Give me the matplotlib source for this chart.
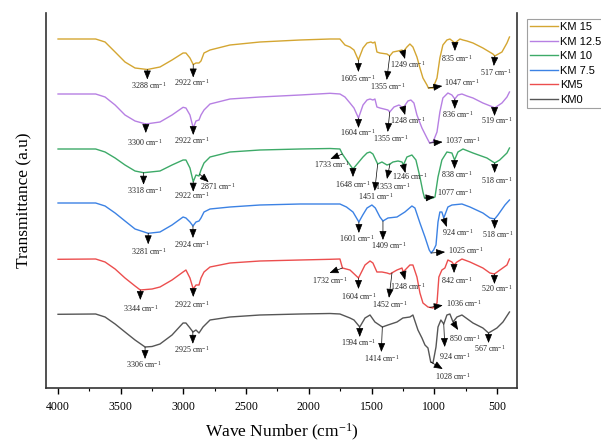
import numpy as np
import matplotlib
matplotlib.use('Agg')
import matplotlib.pyplot as plt
from matplotlib.ticker import MultipleLocator

plt.rcParams['mathtext.fontset'] = 'custom'
plt.rcParams['mathtext.rm'] = 'Liberation Serif'
plt.rcParams['mathtext.it'] = 'Liberation Serif:italic'

# ---------------- data ----------------
series_names = ['KM 15', 'KM 12.5', 'KM 10', 'KM 7.5', 'KM5', 'KM0']
colors = ['#D4A632', '#B780E3', '#3DAA68', '#3C82E4', '#EC4E4E', '#565656']

km15_w = [4000, 3700, 3625, 3545, 3466, 3386, 3288, 3187, 3091, 3003, 2980, 2948, 2922, 2900, 2876, 2860,
          2836, 2788, 2629, 2390, 2070, 1831, 1752, 1712, 1672, 1640, 1605, 1568, 1536, 1505, 1489, 1473,
          1457, 1433, 1377, 1355, 1329, 1289, 1257, 1249, 1218, 1194, 1170, 1138, 1114, 1090, 1058, 1047,
          1010, 978, 955, 931, 899, 875, 835, 795, 771, 739, 691, 612, 532, 517, 460, 420, 400]
km15_t = [361, 361, 358, 348, 338, 332, 330.5, 333, 340, 347, 347, 342, 335.5, 337, 337, 339,
          347, 350, 355, 358, 360, 361, 361, 355, 353, 350, 340, 352, 357, 358, 357, 358,
          348, 347, 346, 344, 348, 349, 350, 348, 353, 356, 353, 343, 332, 322, 315, 312,
          312, 322, 342, 355, 360, 361, 357, 361, 360, 359, 357, 352, 346, 344, 348, 357, 363]

km125_w = [4000, 3700, 3625, 3545, 3466, 3386, 3300, 3187, 3091, 3003, 2980, 2948, 2922, 2900, 2876, 2860,
           2836, 2788, 2629, 2390, 2070, 1831, 1752, 1712, 1672, 1640, 1604, 1568, 1536, 1512, 1489, 1473,
           1457, 1433, 1369, 1355, 1321, 1281, 1248, 1210, 1186, 1162, 1138, 1098, 1058, 1037, 1010, 978,
           955, 931, 891, 859, 836, 811, 779, 739, 691, 612, 532, 519, 460, 420, 400]
km125_t = [306, 306, 303, 295, 285, 279, 276, 278, 285, 292.7, 292, 285, 272, 279, 280, 285,
           290, 296, 301, 303, 305, 306.7, 306, 303, 297, 292, 282, 295, 300, 301, 300, 301,
           293, 292, 290, 288, 293, 295, 292, 299, 300, 297, 285, 272, 262, 257, 258, 268,
           288, 302, 307, 305, 301, 305, 306, 304, 302, 297, 293, 292, 297, 303, 308]

km10_w = [4000, 3700, 3625, 3545, 3466, 3386, 3318, 3187, 3091, 3003, 2980, 2948, 2922, 2900, 2876, 2860,
          2836, 2788, 2629, 2390, 2070, 1831, 1752, 1733, 1700, 1648, 1608, 1568, 1536, 1512, 1489, 1451,
          1417, 1377, 1353, 1329, 1289, 1257, 1246, 1218, 1178, 1146, 1114, 1090, 1077, 1050, 1010, 994,
          970, 939, 899, 859, 838, 811, 771, 691, 580, 518, 478, 420, 400]
km10_t = [251, 251, 248, 242, 235, 229, 227.3, 229, 235, 240, 240, 232, 218.3, 225, 224, 230,
          237, 243, 248, 250, 251, 251.5, 251, 246, 240, 231, 237, 243, 247, 248, 246, 236,
          238, 235, 236, 238, 239, 238, 235, 243, 245, 240, 223, 208, 202, 201, 202, 203,
          223, 240, 248, 247, 240, 248, 251, 247, 242, 237, 240, 247, 252]

km75_w = [4000, 3700, 3625, 3545, 3466, 3386, 3281, 3187, 3091, 3003, 2980, 2948, 2924, 2900, 2876, 2860,
          2836, 2788, 2629, 2390, 2070, 1831, 1752, 1700, 1648, 1601, 1570, 1536, 1497, 1470, 1433, 1409,
          1369, 1297, 1234, 1178, 1154, 1114, 1074, 1040, 1025, 1005, 986, 970, 955, 939, 924, 891,
          859, 779, 715, 612, 556, 518, 492, 436, 400]
km75_t = [197, 197, 194, 187, 179, 171, 166.7, 168, 175, 183, 182, 178, 174, 178, 179, 182,
          188, 191, 193, 195, 196, 196, 196, 193, 188, 178, 185, 192, 195, 192, 183, 179,
          182, 183, 188, 194, 192, 177, 163, 150, 147, 150, 155, 178, 188, 188, 182, 193,
          195, 196, 193, 187, 182, 181, 185, 195, 200]

km5_w = [4000, 3700, 3625, 3545, 3466, 3386, 3344, 3250, 3187, 3091, 3003, 2980, 2948, 2922, 2900, 2876,
         2860, 2836, 2788, 2629, 2390, 2070, 1831, 1752, 1732, 1672, 1604, 1552, 1512, 1489, 1457, 1417,
         1377, 1353, 1297, 1257, 1248, 1194, 1170, 1138, 1114, 1090, 1050, 1010, 978, 963, 939, 915,
         891, 859, 842, 819, 779, 715, 612, 556, 520, 476, 420, 400]
km5_t = [140.7, 141, 138, 131, 122, 114, 110, 111, 113, 120, 128, 130, 122, 111, 115, 115,
         122, 128, 133, 137, 139, 140, 140.7, 141, 132, 130, 122, 135, 139, 137, 128, 128,
         127, 126, 130, 132, 128, 135, 135, 123, 107, 97, 93, 92, 97, 123, 130, 132,
         140, 138, 135, 138, 141, 138, 132, 127, 126, 130, 135, 141]

km0_w = [4000, 3700, 3625, 3545, 3466, 3386, 3306, 3250, 3187, 3091, 3003, 2980, 2948, 2924, 2900, 2876,
         2844, 2788, 2629, 2390, 2070, 1831, 1752, 1672, 1640, 1594, 1552, 1512, 1473, 1414, 1369, 1297,
         1250, 1194, 1170, 1130, 1098, 1074, 1050, 1028, 1010, 986, 970, 947, 924, 899, 875, 850,
         819, 779, 691, 612, 567, 500, 452, 400]
km0_t = [85.7, 86, 83, 76, 68, 60, 53, 53.5, 56, 65, 77, 77, 72, 68, 70, 67,
         73, 80, 83, 85, 86, 86.5, 86, 82, 80, 73, 82, 85, 78, 73, 75, 78,
         82, 83, 85, 70, 62, 55, 52, 38, 37, 53, 73, 80, 76, 85, 86, 78,
         83, 85, 77, 72, 67, 72, 78, 88]

curves = [(km15_w, km15_t), (km125_w, km125_t), (km10_w, km10_t),
          (km75_w, km75_t), (km5_w, km5_t), (km0_w, km0_t)]

x_ticks = [4000, 3500, 3000, 2500, 2000, 1500, 1000, 500]

# peak labels: (series, label wavenumber, arrow-tail wavenumber or None)
peak_labels = [
    (0, 3288, None), (0, 2922, None), (0, 1605, None), (0, 1355, None), (0, 1249, None),
    (0, 835, None), (0, 1047, None), (0, 517, None),
    (1, 3300, None), (1, 2922, None), (1, 1604, None), (1, 1355, None), (1, 1248, None),
    (1, 836, None), (1, 1037, None), (1, 519, None),
    (2, 3318, None), (2, 2922, None), (2, 2871, None), (2, 1733, None), (2, 1648, None),
    (2, 1451, None), (2, 1353, None), (2, 1246, None), (2, 838, None), (2, 1077, None), (2, 518, None),
    (3, 3281, None), (3, 2924, None), (3, 1601, None), (3, 1409, None), (3, 924, None),
    (3, 1025, None), (3, 518, None),
    (4, 3344, None), (4, 2922, None), (4, 1732, None), (4, 1604, None), (4, 1452, 1337),
    (4, 1248, None), (4, 842, None), (4, 1036, None), (4, 520, None),
    (5, 3306, None), (5, 2925, None), (5, 1594, None), (5, 1414, None), (5, 924, None),
    (5, 850, None), (5, 1028, None), (5, 567, None),
]
# layout of each label: arrow head offset, text offset (pixels), text alignment
label_layout = [
    ((0, -10), (1, -16), 'center'), ((0, -13), (-1, -18), 'center'), ((0, -12), (-1, -18), 'center'),
    ((-3, -24), (-2, -30), 'center'), ((2, -7), (5, -13), 'center'), ((0, -8), (2, -15), 'center'),
    ((14, 2), (16, 5), 'left'), ((-1, -10), (1, -17), 'center'),
    ((0, -9), (-1, -18), 'center'), ((0, -7), (-1, -12), 'center'), ((0, -10), (-1, -15), 'center'),
    ((-2, -20), (1, -26), 'center'), ((2, -7), (5, -12), 'center'), ((0, -10), (3, -15), 'center'),
    ((13, 1), (15, 3), 'left'), ((0, -8), (2, -13), 'center'),
    ((0, -12), (1, -18), 'center'), ((0, -10), (-1, -14), 'center'), ((9, -8), (18, -12), 'center'),
    ((-12, -5), (-11, -10), 'center'), ((0, -8), (0, -15), 'center'), ((-3, -27), (-2, -32), 'center'),
    ((-3, -15), (3, -22), 'center'), ((2, -8), (6, -12), 'center'), ((0, -9), (2, -14), 'center'),
    ((10, 1), (12, 5), 'left'), ((0, -10), (2, -17), 'center'),
    ((0, -11), (1, -18), 'center'), ((0, -12), (-1, -19), 'center'), ((0, -11), (-2, -17), 'center'),
    ((0, -19), (6, -25), 'center'), ((3, -9), (14, -15), 'center'), ((14, 1), (17, 2), 'left'),
    ((0, -10), (3, -16), 'center'),
    ((0, -10), (0, -18), 'center'), ((0, -8), (-1, -15), 'center'), ((-13, -5), (-13, -13), 'center'),
    ((0, -11), (0, -18), 'center'), ((-3, -25), (-2, -32), 'center'), ((2, -8), (5, -15), 'center'),
    ((0, -8), (3, -15), 'center'), ((13, 2), (16, 4), 'left'), ((0, -10), (2, -15), 'center'),
    ((0, -12), (-1, -17), 'center'), ((0, -12), (-1, -18), 'center'), ((0, -10), (-1, -16), 'center'),
    ((-1, -25), (-1, -32), 'center'), ((1, -23), (11, -33), 'center'), ((5, -8), (12, -16), 'center'),
    ((12, -7), (22, -14), 'center'), ((0, -10), (1, -16), 'center'),
]

# ---------------- figure ----------------
fig = plt.figure(figsize=(6.01, 4.43), dpi=100)
ax = fig.add_axes([46 / 601, 1 - 388 / 443, (517 - 46) / 601, (388 - 13) / 443])

for (w, t), name, c in zip(curves, series_names, colors):
    ax.plot(w, t, color=c, lw=1.0, label=name, solid_joinstyle='round')

for (si, wn, tail_w), (hoff, toff, ha) in zip(peak_labels, label_layout):
    w = np.array(curves[si][0], dtype=float)[::-1]
    t = np.array(curves[si][1], dtype=float)[::-1]
    tw = tail_w if tail_w is not None else wn
    ty = np.interp(tw, w, t)
    ax.annotate('', xy=(tw, ty), xytext=hoff, textcoords='offset pixels',
                arrowprops=dict(arrowstyle='<|-,head_length=0.55,head_width=0.22',
                                color='black', lw=0.5, shrinkA=0, shrinkB=0,
                                mutation_scale=10))
    ax.annotate(f'{wn} cm$^{{-1}}$', xy=(tw, ty), xytext=toff, textcoords='offset pixels',
                ha=ha, va='center', fontsize=5.8, family='Liberation Serif', color='#222222')

ax.set_xlim(4096, 340)
ax.set_ylim(12, 387)
ax.set_xticks(x_ticks)
ax.xaxis.set_minor_locator(MultipleLocator(250))
ax.set_yticks([])
ax.tick_params(axis='x', which='major', direction='out', length=4, width=1, labelsize=8.5, pad=5)
ax.tick_params(axis='x', which='minor', direction='out', length=2.5, width=0.8)
for lab in ax.get_xticklabels():
    lab.set_family('Liberation Serif')

ax.spines['top'].set_visible(False)
for s in ['left', 'right', 'bottom']:
    ax.spines[s].set_linewidth(1.2)
    ax.spines[s].set_color('#333333')

ax.set_xlabel('Wave Number (cm$^{-1}$)', fontsize=12.5, family='Liberation Serif', labelpad=6.5)
ax.set_ylabel('Transmittance (a.u)', fontsize=12.5, family='Liberation Serif', labelpad=10)

leg = fig.legend(loc='upper left', bbox_to_anchor=(527 / 601, 1 - 19 / 443), frameon=True,
                 fancybox=False, edgecolor='#888888', prop={'family': 'Liberation Sans', 'size': 8},
                 handlelength=2.5, handletextpad=0.2, labelspacing=0.4, borderpad=0.3,
                 borderaxespad=0)
leg.get_frame().set_linewidth(0.8)

fig.savefig('out.png', dpi=100)
